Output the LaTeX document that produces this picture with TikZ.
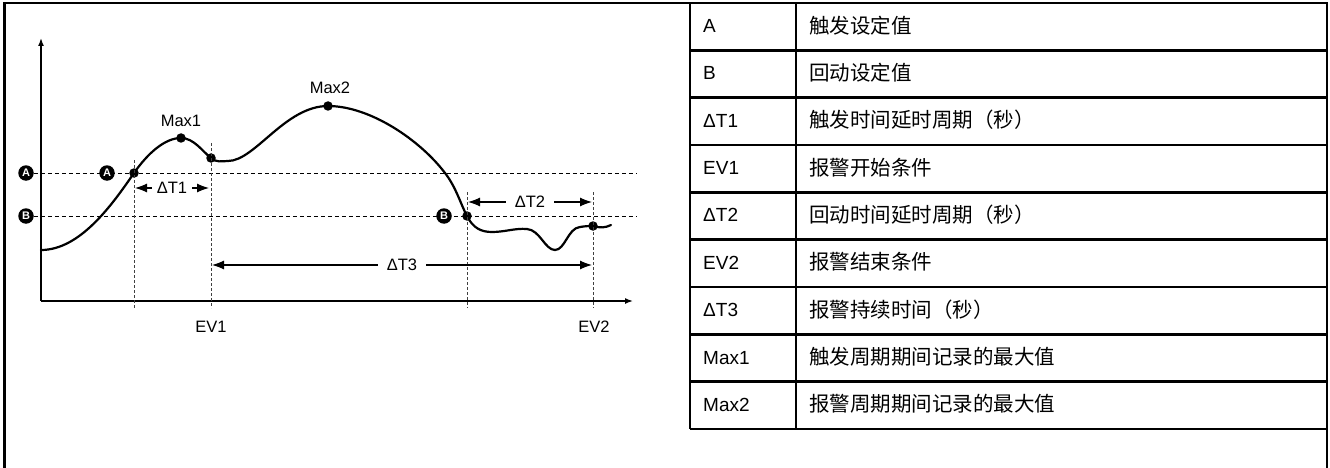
\documentclass[tikz,border=0pt]{standalone}
\usepackage{fontspec}
\setmainfont{Liberation Sans}
\newfontfamily\cjk{Noto Sans CJK SC}
\usetikzlibrary{arrows.meta}
\begin{document}
\begin{tikzpicture}[x=1pt,y=-1pt,
  frame/.style={line width=2.4pt},
  tline/.style={line width=2.4pt},
  curve/.style={line width=2.2pt, line join=round, line cap=round},
  guide/.style={line width=1pt, dash pattern=on 4pt off 3pt},
  vguide/.style={line width=1pt, dash pattern=on 3pt off 2pt, black!75},
  dot/.style={circle, fill=black, inner sep=0pt, minimum size=9.5pt},
  marker/.style={circle, fill=black, inner sep=0pt, minimum size=15.5pt, text=white, font=\fontsize{11}{11}\selectfont\bfseries},
  lbl/.style={font=\fontsize{16.5}{18}\selectfont, inner sep=0pt},
  dimlbl/.style={font=\fontsize{16.5}{18}\selectfont, inner ysep=0pt, inner xsep=9pt},
  dimarrow/.style={line width=1.1pt, -{Latex[length=12pt,width=9pt]}},
  axis/.style={line width=1.5pt, -{Latex[length=8pt,width=6pt]}},
  keytxt/.style={anchor=base west, inner sep=0pt, font=\fontsize{19}{22}\selectfont},
  valtxt/.style={anchor=base west, inner sep=0pt, font=\fontsize{20.5}{24}\cjk}
]
\useasboundingbox (0,0) rectangle (1330,468);

% outer frame (open at bottom)
\draw[frame] (4.5,470) -- (4.5,3) -- (1327,3) -- (1327,470);

% ---------- table ----------
\foreach \i in {0,...,9} {
  \draw[tline] (690,{3+47.333*\i}) -- (1327,{3+47.333*\i});
}
\draw[tline] (690,3) -- (690,429);
\draw[tline] (796,3) -- (796,429);

\foreach \i/\k/\v in {1/A/触发设定值, 2/B/回动设定值, 3/ΔT1/触发时间延时周期（秒）, 4/EV1/报警开始条件, 5/ΔT2/回动时间延时周期（秒）, 6/EV2/报警结束条件, 7/ΔT3/报警持续时间（秒）, 8/Max1/触发周期期间记录的最大值, 9/Max2/报警周期期间记录的最大值} {
  \node[keytxt] (key\i) at (703,{3+47.333*(\i-0.5)+6}) {\k};
  \node[valtxt] (val\i) at (809,{3+47.333*(\i-0.5)+6.5}) {\v};
}

% ---------- chart ----------
\coordinate (origin) at (41,301);
\coordinate (ytip) at (41,38);
\coordinate (xtip) at (633,301);
\draw[axis] (origin) -- (ytip);
\draw[axis] (origin) -- (xtip);

% threshold markers
\node[marker] (mA) at (26,173) {A};
\node[marker] (mB) at (26,216) {B};
\coordinate (aEnd) at (636,173);
\coordinate (bEnd) at (636,216);
\draw[guide] (mA.east) -- (aEnd);
\draw[guide] (mB.east) -- (bEnd);

% curve key points
\coordinate (c0) at (41,250);
\coordinate (c1) at (134,173);
\coordinate (c2) at (181,138);
\coordinate (c3) at (211,158);
\coordinate (c4) at (228,161);
\coordinate (c5) at (328,106);
\coordinate (c6) at (445,173);
\coordinate (c7) at (467,216);
\coordinate (c8) at (492,232);
\coordinate (c9) at (527,229);
\coordinate (c10) at (555,250);
\coordinate (c11) at (580,227);
\coordinate (c12) at (593,226);
\coordinate (c13) at (611,225);
\draw[curve] (c0)
  .. controls (80,250) and (112,205) .. (c1)
  .. controls (148,153) and (165,138) .. (c2)
  .. controls (194,138) and (203,152) .. (c3)
  .. controls (217,163) and (222,161) .. (c4)
  .. controls (255,161) and (285,106) .. (c5)
  .. controls (370,106) and (420,140) .. (c6)
  .. controls (456,187) and (461,205) .. (c7)
  .. controls (473,228) and (481,232) .. (c8)
  .. controls (505,232) and (515,228) .. (c9)
  .. controls (540,230) and (545,250) .. (c10)
  .. controls (565,250) and (568,228) .. (c11)
  .. controls (586,226) and (589,226) .. (c12)
  .. controls (600,228) and (605,228) .. (c13);

% second markers on the lines
\node[marker] (mA2) at (107,173) {A};
\node[marker] (mB2) at (444,216) {B};

% dots
\node[dot] (d1) at (c1) {};
\node[dot] (max1) at (c2) {};
\node[dot] (d2) at (c3) {};
\node[dot] (max2) at (c5) {};
\node[dot] (d3) at (c7) {};
\node[dot] (d4) at (c12) {};

% vertical guides
\coordinate (v1t) at (134,160);
\coordinate (v1b) at (134,308);
\coordinate (v2t) at (211,143);
\coordinate (v2b) at (211,308);
\coordinate (v3t) at (467,192);
\coordinate (v3b) at (467,308);
\coordinate (v4t) at (593,192);
\coordinate (v4b) at (593,308);
\draw[vguide] (v1t) -- (v1b);
\draw[vguide] (v2t) -- (v2b);
\draw[vguide] (v3t) -- (v3b);
\draw[vguide] (v4t) -- (v4b);

% labels
\node[lbl] (lmax1) at (181,121) {Max1};
\node[lbl] (lmax2) at (330,88) {Max2};
\node[lbl] (lev1) at (211,327) {EV1};
\node[lbl] (lev2) at (594,327) {EV2};

% delta T dimensions
\node[dimlbl, inner xsep=5pt] (t1) at (172,188) {ΔT1};
\coordinate (t1l) at (135,188);
\coordinate (t1r) at (209,188);
\draw[dimarrow] (t1.west) -- (t1l);
\draw[dimarrow] (t1.east) -- (t1r);

\node[dimlbl] (t2) at (530,202) {ΔT2};
\coordinate (t2l) at (468,202);
\coordinate (t2r) at (592,202);
\draw[dimarrow] (t2.west) -- (t2l);
\draw[dimarrow] (t2.east) -- (t2r);

\node[dimlbl] (t3) at (402,265) {ΔT3};
\coordinate (t3l) at (212,265);
\coordinate (t3r) at (592,265);
\draw[dimarrow] (t3.west) -- (t3l);
\draw[dimarrow] (t3.east) -- (t3r);
\end{tikzpicture}
\end{document}
